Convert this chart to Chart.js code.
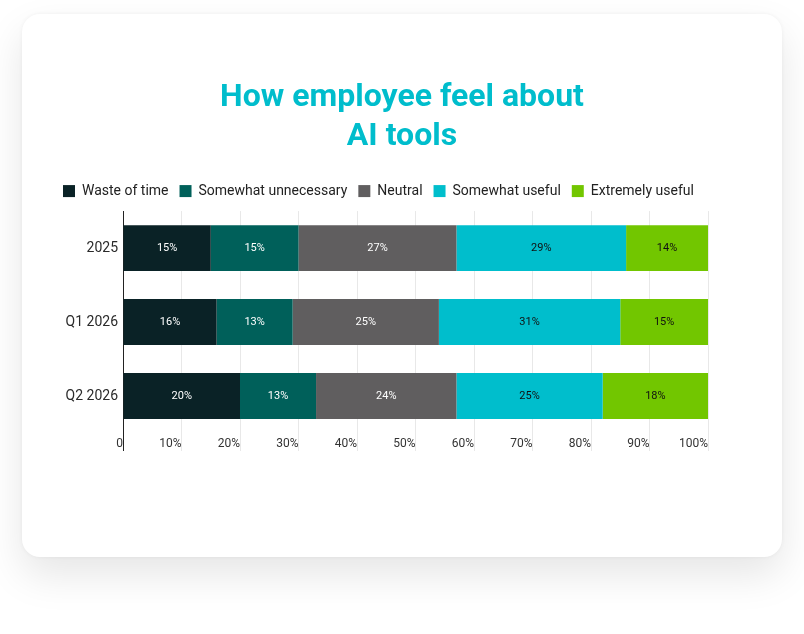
<!DOCTYPE html>
<html>
<head>
<meta charset="utf-8">
<script src="https://cdn.jsdelivr.net/npm/chart.js@4.4.1/dist/chart.umd.min.js"></script>
<style>
  html, body { margin: 0; padding: 0; background: #fff; }
  .card {
    position: absolute; left: 22px; top: 14px; width: 760px; height: 543px;
    background: #fff; border-radius: 18px;
    box-shadow: 0 18px 40px rgba(0, 0, 0, 0.10), 0 0 4px rgba(0, 0, 0, 0.05);
  }
  canvas { display: block; }
</style>
</head>
<body>
<div class="card"><canvas id="ai-chart" width="760" height="543"></canvas></div>
<script>
const categories = ['2025', 'Q1 2026', 'Q2 2026'];
const seriesNames = ['Waste of time', 'Somewhat unnecessary', 'Neutral', 'Somewhat useful', 'Extremely useful'];
const wasteOfTime = [15, 16, 20];
const somewhatUnnecessary = [15, 13, 13];
const neutral = [27, 25, 24];
const somewhatUseful = [29, 31, 25];
const extremelyUseful = [14, 15, 18];
const xTickLabels = ['0', '10%', '20%', '30%', '40%', '50%', '60%', '70%', '80%', '90%', '100%'];

const seriesValues = [wasteOfTime, somewhatUnnecessary, neutral, somewhatUseful, extremelyUseful];
const colors = ['#0a2226', '#00605a', '#605e5f', '#00becc', '#72c600'];
const labelColors = ['#ffffff', '#ffffff', '#ffffff', '#111111', '#111111'];

// draws the percentage in the middle of each bar segment
const barLabels = {
    id: 'barLabels',
    afterDatasetsDraw(chart) {
        const ctx = chart.ctx;
        ctx.save();
        ctx.font = '11px Roboto';
        ctx.textAlign = 'center';
        ctx.textBaseline = 'middle';
        chart.data.datasets.forEach((ds, i) => {
            chart.getDatasetMeta(i).data.forEach((bar, j) => {
                const p = bar.getProps(['x', 'y', 'base'], true);
                ctx.fillStyle = labelColors[i];
                ctx.fillText(ds.data[j] + '%', (p.x + p.base) / 2, p.y);
            });
        });
        ctx.restore();
    }
};

const ctx = document.getElementById('ai-chart').getContext('2d');
const aiChart = new Chart(ctx, {
    type: 'bar',
    data: {
        labels: categories,
        datasets: seriesNames.map((name, i) => ({
            label: name,
            data: seriesValues[i],
            backgroundColor: colors[i],
            borderWidth: 0,
            barPercentage: 0.62,
            categoryPercentage: 1
        }))
    },
    options: {
        indexAxis: 'y',
        responsive: false,
        animation: false,
        layout: { padding: { top: 64, left: 30, right: 30, bottom: 94 } },
        plugins: {
            title: {
                display: true,
                text: ['How employee feel about', 'AI tools'],
                color: '#00bdcc',
                font: { family: 'Roboto', size: 32, weight: 'bold', lineHeight: 1.22 },
                padding: { top: 0, bottom: 17 }
            },
            legend: {
                align: 'start',
                labels: {
                    color: '#222',
                    font: { family: 'Roboto', size: 14 },
                    boxWidth: 12,
                    boxHeight: 12,
                    padding: 11
                }
            },
            tooltip: { enabled: false }
        },
        scales: {
            x: {
                stacked: true,
                min: 0,
                max: 100,
                afterFit: (scale) => { scale.height = 30; },
                border: { display: false },
                grid: {
                    color: (c) => c.tick && c.tick.value === 0 ? '#222' : '#e8e8e8',
                    tickLength: 18
                },
                ticks: {
                    stepSize: 10,
                    align: 'end',
                    padding: -14,
                    color: '#333',
                    font: { family: 'Roboto', size: 12 },
                    callback: (v, i) => xTickLabels[i]
                }
            },
            // empty spacer axes: keep the title centred and a small gap under the legend
            xTop: {
                type: 'linear',
                position: 'top',
                afterFit: (scale) => { scale.height = 3; },
                border: { display: false },
                grid: { display: false },
                ticks: { display: false }
            },
            y: {
                stacked: true,
                afterFit: (scale) => { scale.width = 71; },
                border: { display: true, color: '#222' },
                grid: { display: false },
                ticks: {
                    color: '#2a2a2a',
                    font: { family: 'Roboto', size: 14 },
                    padding: -3
                }
            },
            yRight: {
                type: 'category',
                position: 'right',
                afterFit: (scale) => { scale.width = 44; },
                border: { display: false },
                grid: { display: false },
                ticks: { display: false }
            }
        }
    },
    plugins: [barLabels]
});
</script>
</body>
</html>
